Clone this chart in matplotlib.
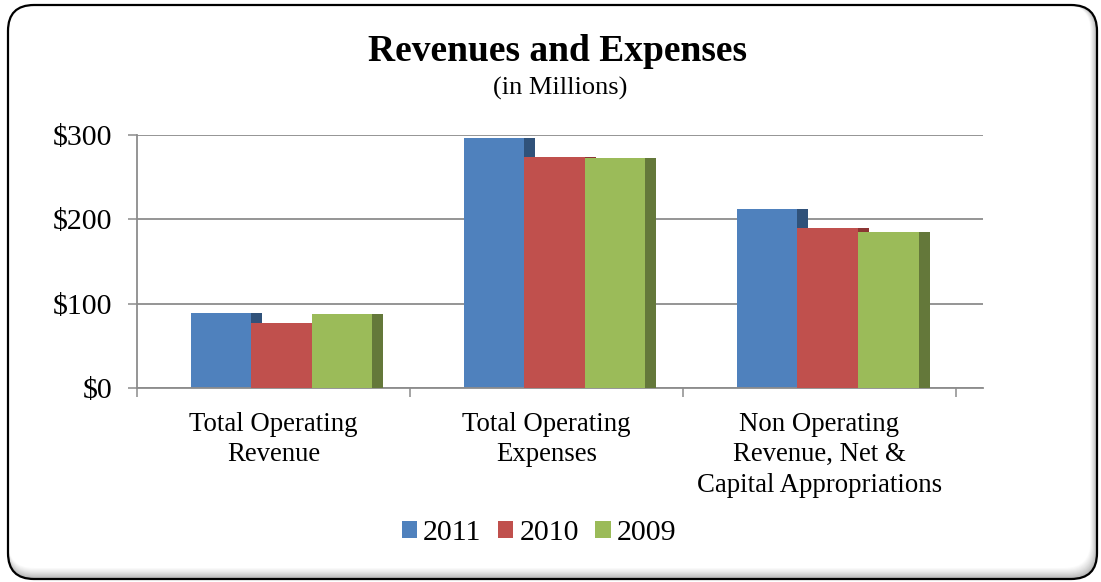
#!/usr/bin/env python3

import numpy as np
import matplotlib
matplotlib.use("Agg")
import matplotlib.pyplot as plt
from matplotlib.patches import FancyBboxPatch

plt.rcParams['font.family'] = ['Liberation Serif', 'DejaVu Serif']

# data (in millions)
categories = ["Total Operating\nRevenue", "Total Operating\nExpenses",
              "Non Operating\nRevenue, Net &\nCapital Appropriations"]
years = ["2011", "2010", "2009"]
vals_2011 = [88.6, 296.8, 211.9]
vals_2010 = [76.7, 273.5, 190.1]
vals_2009 = [87.4, 272.3, 184.6]
yticks = [0, 100, 200, 300]
ytick_labels = ["$0", "$100", "$200", "$300"]

front_colors = ["#4f81bd", "#c0504d", "#9bbb59"]
side_colors = ["#30527a", "#8c3533", "#64783a"]

W, H = 1101, 582
fig = plt.figure(figsize=(W / 100, H / 100), dpi=100)

# background frame (pixel coords)
bg = fig.add_axes([0, 0, 1, 1], zorder=0)
bg.set_xlim(0, W)
bg.set_ylim(H, 0)
bg.axis('off')

x0, y0, x1, y1, r = 8, 5, 1097, 579, 26


def rbox(xa, ya, xb, yb, **kw):
    return FancyBboxPatch((xa + r, ya + r), (xb - xa) - 2 * r, (yb - ya) - 2 * r,
                          boxstyle="round,pad=%d" % r, **kw)


# soft inner shadow along bottom / right edge
n = 12
for k in range(n + 1):
    inset = 11.0 * k / n
    g = 0.66 + 0.34 * (k / n) ** 0.7
    bg.add_patch(rbox(x0, y0, x1 - inset * 0.6, y1 - inset,
                      facecolor=(g, g, g), edgecolor='none'))
bg.add_patch(rbox(x0, y0, x1, y1, facecolor='none', edgecolor='black', linewidth=1.6))

# titles
fig.text(558 / W, 1 - 61 / H, "Revenues and Expenses", ha='center', va='baseline',
         fontsize=27, fontweight='bold')
fig.text(560 / W, 1 - 95 / H, "(in Millions)", ha='center', va='baseline', fontsize=19)

# main axes: x from 137px (0) to 983px, y from 388px (0) to 135px (300)
ax = fig.add_axes([137 / W, (H - 388) / H, (983 - 137) / W, (388 - 135) / H], zorder=1)
ax.patch.set_alpha(0)
ax.set_xlim(0, (983 - 137) / 273)
ax.set_ylim(0, 300)

x = np.arange(len(categories))
offset = 54 / 273
bw = 60.5 / 273
side = 11 / 273
for i, (vals, fc, sc) in enumerate(zip([vals_2011, vals_2010, vals_2009], front_colors, side_colors)):
    left = x + offset + i * bw
    ax.bar(left + bw, vals, side, align='edge', color=sc, linewidth=0, zorder=2 + i)
    ax.bar(left, vals, bw, align='edge', color=fc, linewidth=0, zorder=2 + i, label=years[i])

grid_c = "#8c8c8c"
ax.set_axisbelow(True)
ax.yaxis.grid(True, color=grid_c, linewidth=1.3)
ax.set_yticks(yticks)
ax.set_yticklabels(ytick_labels, fontsize=21.5)
ax.tick_params(axis='y', length=6.5, width=1.1, color=grid_c, pad=11)

ax.set_xticks([0, 1, 2, 3])
ax.set_xticklabels([])
ax.set_xticks(x + 0.5, minor=True)
ax.set_xticklabels(categories, minor=True, fontsize=19.3, linespacing=1.3)
ax.tick_params(axis='x', which='major', length=6.5, width=1.1, color=grid_c)
ax.tick_params(axis='x', which='minor', length=0, pad=17)

for s in ['top', 'right']:
    ax.spines[s].set_visible(False)
for s in ['left', 'bottom']:
    ax.spines[s].set_color(grid_c)
    ax.spines[s].set_linewidth(1.3)

handles, labels = ax.get_legend_handles_labels()
fig.legend(handles, labels, loc='center', bbox_to_anchor=(539 / W, 1 - 533 / H),
           ncol=3, frameon=False, fontsize=21.5, handlelength=0.52, handleheight=0.52,
           handletextpad=0.2, columnspacing=0.55, borderaxespad=0)

fig.savefig("out.png", dpi=100)
